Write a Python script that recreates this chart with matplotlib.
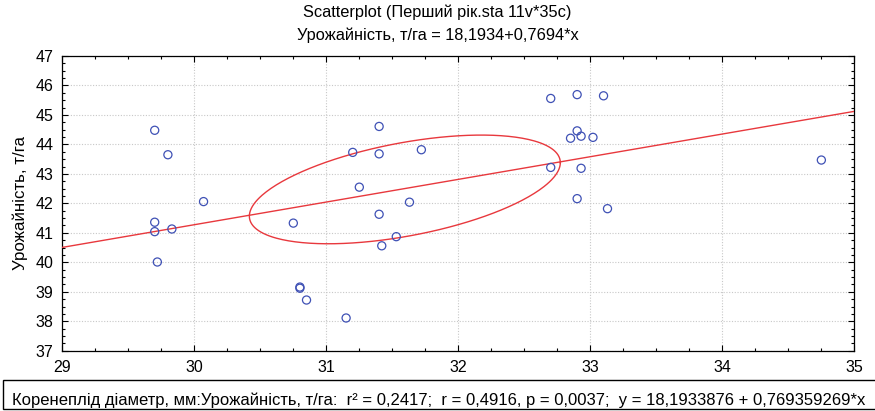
import matplotlib.pyplot as plt
import numpy as np
from matplotlib.patches import Rectangle
from matplotlib.ticker import MultipleLocator

# Коренеплід діаметр, мм (x) and Урожайність, т/га (y)
diameter = [29.70, 29.80, 29.70, 29.70, 29.83, 29.72, 30.07, 30.75,
            30.80, 30.80, 30.85, 31.15, 31.20, 31.25, 32.70, 32.90,
            33.10, 31.40, 32.90, 32.85, 32.93, 33.02, 31.40, 31.72,
            32.70, 32.93, 31.63, 31.40, 32.90, 33.13, 31.53, 31.42,
            34.75]
yield_t = [44.48, 43.65, 41.36, 41.04, 41.13, 40.01, 42.06, 41.33,
           39.16, 39.12, 38.72, 38.11, 43.73, 42.55, 45.56, 45.69,
           45.65, 44.61, 44.46, 44.21, 44.28, 44.24, 43.68, 43.82,
           43.22, 43.19, 42.04, 41.63, 42.16, 41.82, 40.87, 40.56,
           43.47]

intercept = 18.1934
slope = 0.7694
ellipse_scale = 0.895

x_ticks = [29, 30, 31, 32, 33, 34, 35]
y_ticks = [37, 38, 39, 40, 41, 42, 43, 44, 45, 46, 47]

title_1 = "Scatterplot (Перший рік.sta 11v*35c)"
title_2 = "Урожайність, т/га = 18,1934+0,7694*x"
y_label = "Урожайність, т/га"
stats_text = ("Коренеплід діаметр, мм:Урожайність, т/га:  r² = 0,2417;  "
              "r = 0,4916, p = 0,0037;  y = 18,1933876 + 0,769359269*x")

main_font = ['Liberation Sans', 'DejaVu Sans']

fig = plt.figure(figsize=(8.75, 4.11), dpi=100)
ax = fig.add_axes([0.0712, 0.1467, 0.9052, 0.7170])

x = np.array(diameter)
y = np.array(yield_t)

# regression line across the whole x range
line_x = np.array([x_ticks[0], x_ticks[-1]])
ax.plot(line_x, intercept + slope * line_x, color='#e8383d', lw=1.0, zorder=3)

# normal ellipse from the sample mean and covariance
center = np.array([x.mean(), y.mean()])
cov = np.cov(x, y)
chol = np.linalg.cholesky(cov)
t = np.linspace(0, 2 * np.pi, 300)
circle = np.vstack([np.cos(t), np.sin(t)])
ell = center[:, None] + ellipse_scale * chol @ circle
ax.plot(ell[0], ell[1], color='#e8383d', lw=1.0, zorder=3)

ax.scatter(x, y, s=34, facecolors='none', edgecolors='#3f51b5',
           linewidths=0.9, zorder=4)

ax.set_xlim(x_ticks[0], x_ticks[-1])
ax.set_ylim(y_ticks[0], y_ticks[-1])
ax.set_xticks(x_ticks)
ax.set_yticks(y_ticks)
ax.xaxis.set_minor_locator(MultipleLocator(0.25))
ax.yaxis.set_minor_locator(MultipleLocator(0.25))
ax.tick_params(which='both', direction='in', top=True, right=True,
               color='black', width=0.8)
ax.tick_params(which='major', length=4, labelsize=11.5)
ax.tick_params(axis='y', which='major', pad=6.5)
ax.tick_params(axis='x', which='major', pad=7)
for lab in ax.get_xticklabels() + ax.get_yticklabels():
    lab.set_family(main_font)
ax.grid(True, which='major', color='#c8c8c8', ls=(0, (1, 1.5)), lw=0.8)
ax.set_axisbelow(True)
for sp in ax.spines.values():
    sp.set_linewidth(0.9)

ax.set_ylabel(y_label, fontsize=12.2, family=main_font, labelpad=5)

fig.text(0.5, 0.970, title_1, ha='center', va='center', fontsize=11.8,
         family=main_font)
fig.text(0.5, 0.915, title_2, ha='center', va='center', fontsize=11.8,
         family=main_font)

# statistics box under the plot
fig.add_artist(Rectangle((0.0035, 0.005), 1.01, 0.0706, transform=fig.transFigure,
                         facecolor='white', edgecolor='black', lw=1.0))
fig.text(0.0137, 0.0146, stats_text, ha='left', va='baseline', fontsize=12,
         family=main_font)

fig.savefig('out.png', dpi=100)
